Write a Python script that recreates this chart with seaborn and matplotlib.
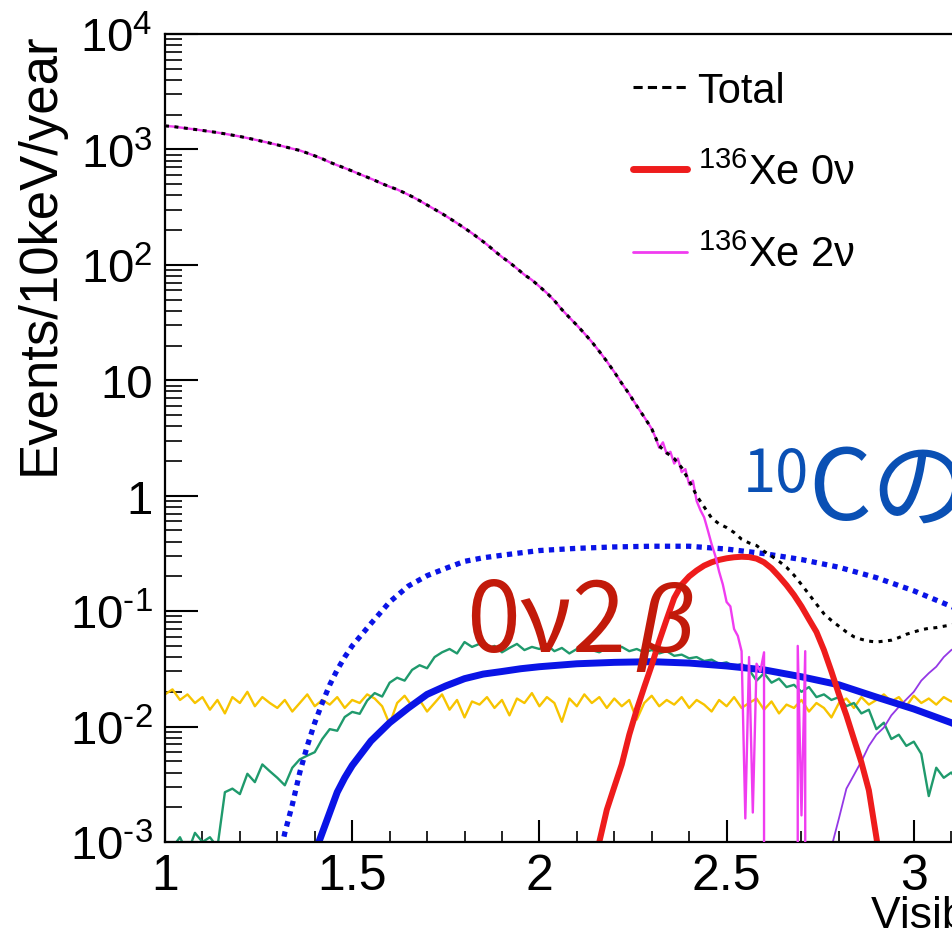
import numpy as np
import matplotlib
matplotlib.use("Agg")
import matplotlib.pyplot as plt
import seaborn as sns
from matplotlib.lines import Line2D
from matplotlib.ticker import MultipleLocator, LogLocator, NullFormatter

# ---------------- spectra (events / 10 keV / year) ----------------
# 136Xe 2nu spectrum, high-statistics region sampled every 20 keV
e_2nu = np.round(np.arange(1.00, 2.301, 0.02), 2)
xe2nu_main = [
    1600, 1580, 1550, 1520, 1490, 1460, 1430, 1400, 1365, 1330,
    1295, 1255, 1215, 1175, 1135, 1095, 1055, 1015, 980, 930,
    880, 830, 775, 730, 690, 650, 610, 575, 540, 505,
    475, 450, 420, 390, 360, 330, 303, 278, 253, 230,
    208, 188, 168, 150, 132, 117, 105, 93, 82, 74,
    65, 57, 49, 41, 35, 30, 25.5, 21.5, 17.8, 14.6,
    11.8, 9.4, 7.6, 6.0, 4.8, 3.8,
]
# 136Xe 2nu end-point tail, 10 keV bins (empty bins are zero)
e_2nu_tail = np.round(np.arange(2.31, 2.751, 0.01), 2)
xe2nu_tail = [
    3.2, 2.6, 2.9, 2.3, 2.4, 1.9, 2.1, 1.6, 1.7, 1.25,
    1.35, 0.9, 0.75, 0.65, 0.5, 0.38, 0.3, 0.22, 0.17, 0.12,
    0.11, 0.07, 0.061, 0.045, 0.0016, 0.04, 0.0018, 0.035, 0.03, 0.044,
    0, 0, 0, 0, 0, 0, 0, 0, 0.05, 0.0017,
    0.045, 0, 0, 0, 0,
]

# total spectrum above the 2nu-dominated region
e_total_tail = np.round(np.arange(2.32, 3.161, 0.02), 2)
total_tail = [
    2.7, 2.35, 2.1, 1.75, 1.35, 1.0, 0.8, 0.64, 0.57, 0.53,
    0.48, 0.42, 0.39, 0.37, 0.33, 0.30, 0.27, 0.24, 0.205, 0.17,
    0.14, 0.115, 0.095, 0.083, 0.074, 0.066, 0.060, 0.057, 0.055, 0.054,
    0.055, 0.056, 0.059, 0.063, 0.066, 0.069, 0.071, 0.072, 0.074, 0.076,
    0.078, 0.080, 0.082,
]

# 136Xe 0nu peak
e_0nu = np.round(np.arange(2.14, 2.921, 0.02), 2)
xe0nu = [
    0.0006, 0.001, 0.0019, 0.003, 0.0047, 0.0085, 0.014, 0.022, 0.034, 0.055,
    0.085, 0.13, 0.17, 0.20, 0.225, 0.248, 0.265, 0.278, 0.287, 0.293,
    0.296, 0.294, 0.285, 0.265, 0.235, 0.20, 0.168, 0.138, 0.11, 0.085,
    0.066, 0.046, 0.030, 0.019, 0.0125, 0.0078, 0.0049, 0.0028, 0.0011, 0.0004,
]

# 10C spectra: before (dotted) and after (solid) tagging
e_c10 = [1.30, 1.32, 1.34, 1.36, 1.38, 1.40, 1.42, 1.44, 1.46, 1.48, 1.50,
         1.55, 1.60, 1.65, 1.70, 1.75, 1.80, 1.85, 1.90, 1.95, 2.00,
         2.10, 2.20, 2.30, 2.40, 2.50, 2.60, 2.70, 2.80, 2.90, 3.00, 3.10, 3.20]
c10_all = [0.0006, 0.0012, 0.0021, 0.0040, 0.0068, 0.0108, 0.016, 0.023, 0.031, 0.040, 0.050,
           0.078, 0.12, 0.165, 0.203, 0.235, 0.27, 0.29, 0.305, 0.32, 0.335,
           0.35, 0.36, 0.365, 0.365, 0.345, 0.315, 0.28, 0.24, 0.195, 0.15, 0.11, 0.078]
c10_tagged = [0.00008, 0.00015, 0.00025, 0.0004, 0.00055, 0.0008, 0.0012, 0.0018, 0.0027, 0.0036, 0.0046,
              0.0075, 0.0108, 0.0145, 0.019, 0.0225, 0.026, 0.0285, 0.030, 0.0317, 0.033,
              0.035, 0.036, 0.0365, 0.0355, 0.0335, 0.031, 0.027, 0.023, 0.018, 0.0142, 0.0108, 0.0078]

# other backgrounds, 20 keV sampling
e_bkg = np.round(np.arange(1.00, 3.161, 0.02), 2)
bkg_green = [
    0.0007, 0.0009, 0.0011, 0.0008, 0.0012, 0.0010, 0.0011, 0.0009, 0.0027, 0.0029,
    0.0026, 0.0039, 0.0033, 0.0047, 0.0041, 0.0036, 0.0031, 0.0044, 0.0052, 0.0056,
    0.0060, 0.0078, 0.0095, 0.0092, 0.0121, 0.0134, 0.0129, 0.0168, 0.0195, 0.0182,
    0.024, 0.0265, 0.025, 0.031, 0.034, 0.032, 0.040, 0.044, 0.047, 0.043,
    0.054, 0.049, 0.052, 0.047, 0.050, 0.044, 0.048, 0.052, 0.046, 0.049,
    0.047, 0.051, 0.045, 0.048, 0.043, 0.047, 0.050, 0.046, 0.044, 0.048,
    0.046, 0.049, 0.045, 0.047, 0.044, 0.046, 0.043, 0.045, 0.041, 0.042,
    0.039, 0.040, 0.037, 0.038, 0.035, 0.036, 0.033, 0.035, 0.031, 0.025,
    0.029, 0.024, 0.026, 0.022, 0.023, 0.020, 0.022, 0.018, 0.019, 0.017,
    0.018, 0.015, 0.016, 0.013, 0.014, 0.0095, 0.0108, 0.0078, 0.0085, 0.0068,
    0.0074, 0.0058, 0.0025, 0.0044, 0.0036, 0.0040, 0.0033, 0.0030, 0.0027,
]
bkg_yellow = [
    0.019, 0.021, 0.017, 0.019, 0.016, 0.018, 0.014, 0.017, 0.013, 0.018,
    0.016, 0.020, 0.015, 0.018, 0.016, 0.0145, 0.017, 0.0135, 0.016, 0.019,
    0.015, 0.017, 0.0155, 0.018, 0.0145, 0.017, 0.016, 0.019, 0.0175, 0.015,
    0.0105, 0.016, 0.0185, 0.015, 0.017, 0.0135, 0.016, 0.019, 0.014, 0.017,
    0.012, 0.0165, 0.0155, 0.018, 0.0145, 0.017, 0.0125, 0.0175, 0.016, 0.0195,
    0.015, 0.018, 0.016, 0.011, 0.0175, 0.015, 0.019, 0.016, 0.018, 0.0145,
    0.0175, 0.015, 0.017, 0.0115, 0.016, 0.0185, 0.015, 0.017, 0.0155, 0.018,
    0.0145, 0.017, 0.0155, 0.0135, 0.017, 0.015, 0.018, 0.0145, 0.016, 0.0175,
    0.014, 0.0165, 0.013, 0.0155, 0.0145, 0.017, 0.0135, 0.016, 0.0145, 0.012,
    0.016, 0.0175, 0.0145, 0.018, 0.0155, 0.017, 0.019, 0.0165, 0.018, 0.015,
    0.0185, 0.016, 0.0175, 0.0155, 0.018, 0.0165, 0.0175, 0.016, 0.017,
]
e_purple = np.round(np.arange(2.76, 3.161, 0.02), 2)
bkg_purple = [0.0006, 0.0009, 0.0016, 0.0029, 0.0038, 0.005, 0.0068, 0.0085, 0.0098, 0.0125,
              0.0148, 0.0172, 0.020, 0.025, 0.029, 0.033, 0.040, 0.046, 0.050, 0.054, 0.058]

# axis labels
y_ticks = [1e-3, 1e-2, 1e-1, 1, 10, 1e2, 1e3, 1e4]
y_ticklabels = ["10$^{\\text{-}3}$", "10$^{\\text{-}2}$", "10$^{\\text{-}1}$", "1", "10",
                "10$^{2}$", "10$^{3}$", "10$^{4}$"]
x_ticks = [1, 1.5, 2, 2.5, 3, 3.5]
x_ticklabels = ["1", "1.5", "2", "2.5", "3", "3.5"]
legend_labels = ["Total", "$^{136}$Xe 0ν", "$^{136}$Xe 2ν"]

# ---------------- style ----------------
sns.set_theme(style="white")
plt.rcParams.update({
    "font.family": ["Liberation Sans", "DejaVu Sans"],
    "mathtext.fontset": "custom",
    "mathtext.rm": "Liberation Sans",
    "mathtext.it": "Liberation Sans:italic",
    "mathtext.bf": "Liberation Sans:bold",
    "axes.edgecolor": "black",
    "axes.linewidth": 1.6,
    "text.color": "black",
    "xtick.color": "black",
    "ytick.color": "black",
    "axes.labelcolor": "black",
})

RED = "#ee1c1c"
MAGENTA = "#f03cf0"
BLUE = "#0a14e6"
GREEN = "#1f9a6c"
YELLOW = "#f7c400"
PURPLE = "#9438e6"

W, H = 952, 937
fig = plt.figure(figsize=(W / 100, H / 100), dpi=100)
# the frame runs past the right edge of the canvas
ax = fig.add_axes([165 / W, 1 - 843 / H, 936 / W, 808 / H])
ax.set_yscale("log")
ax.set_xlim(1, 3.5)
ax.set_ylim(1e-3, 1e4)

common = dict(ax=ax, estimator=None, legend=False)
sns.lineplot(x=e_bkg, y=bkg_yellow, color=YELLOW, linewidth=1.7, zorder=2.0, **common)
sns.lineplot(x=e_bkg, y=bkg_green, color=GREEN, linewidth=1.7, zorder=2.1, **common)
sns.lineplot(x=e_purple, y=bkg_purple, color=PURPLE, linewidth=1.3, zorder=2.2, **common)
sns.lineplot(x=e_c10, y=c10_all, color=BLUE, linewidth=3.8,
             linestyle=(0, (1.0, 1.0)), dash_capstyle="butt", zorder=2.3, **common)
sns.lineplot(x=e_c10, y=c10_tagged, color=BLUE, linewidth=5.0, zorder=2.4, **common)
sns.lineplot(x=e_0nu, y=xe0nu, color=RED, linewidth=4.3, zorder=2.5, **common)

e_2nu_all = np.concatenate([e_2nu, e_2nu_tail])
xe2nu_all = list(xe2nu_main) + list(xe2nu_tail)
sns.lineplot(x=e_2nu_all, y=xe2nu_all, color=MAGENTA, linewidth=1.7, zorder=2.6, **common)

e_total = np.concatenate([e_2nu, e_total_tail])
total_all = list(xe2nu_main) + list(total_tail)
sns.lineplot(x=e_total, y=total_all, color="black", linewidth=2.2,
             linestyle=(0, (1.3, 1.8)), zorder=2.7, **common)

# ---------------- axes ----------------
ax.set_xticks(x_ticks)
ax.set_xticklabels(x_ticklabels)
ax.xaxis.set_minor_locator(MultipleLocator(0.1))
ax.set_yticks(y_ticks)
ax.set_yticklabels(y_ticklabels)
ax.yaxis.set_minor_locator(LogLocator(base=10, subs=np.arange(2, 10), numticks=30))
ax.yaxis.set_minor_formatter(NullFormatter())
ax.tick_params(which="both", direction="in", top=False, right=False,
               left=True, bottom=True, color="black")
ax.tick_params(axis="y", which="major", length=24, width=1.5, pad=9, labelsize=34)
ax.tick_params(axis="y", which="minor", length=12, width=1.2)
ax.tick_params(axis="x", which="major", length=16, width=1.5, pad=8, labelsize=36)
ax.tick_params(axis="x", which="minor", length=8, width=1.2)
ax.set_xlabel("")
ax.set_ylabel("")
for s in ax.spines.values():
    s.set_color("black")

fig.text(40 / W, 1 - 32 / H, "Events/10keV/year", rotation=90,
         ha="center", va="top", fontsize=38)
fig.text(871 / W, 1 - 928 / H, "Visible Energy (MeV)", ha="left",
         va="baseline", fontsize=32)

# ---------------- legend ----------------
handles = [
    Line2D([], [], color="black", linewidth=2.2, linestyle=(0, (3.0, 1.7))),
    Line2D([], [], color=RED, linewidth=5.0),
    Line2D([], [], color=MAGENTA, linewidth=2.0),
]
ax.legend(handles, legend_labels, loc="upper left",
          bbox_to_anchor=(633 / W, 1 - 72 / H), bbox_transform=fig.transFigure,
          frameon=False, fontsize=30, handlelength=1.3, handletextpad=0.25,
          labelspacing=1.0, borderpad=0, borderaxespad=0)

# ---------------- annotations ----------------
jp = ["Noto Sans CJK JP", "DejaVu Sans"]
fig.text(466 / W, 1 - 652 / H, "0ν2$\\,\\beta$", color="#c21a0a",
         fontsize=70, family="Noto Sans CJK JP", ha="left", va="baseline", zorder=5)
fig.text(743 / W, 1 - 492 / H, "10", color="#0a50b4", fontsize=43,
         family=jp, ha="left", va="baseline", zorder=5)
fig.text(808 / W, 1 - 521 / H, "Cのバックグラウンド", color="#0a50b4", fontsize=71,
         family=jp, ha="left", va="baseline", zorder=5)

fig.savefig("out.png", dpi=100)
